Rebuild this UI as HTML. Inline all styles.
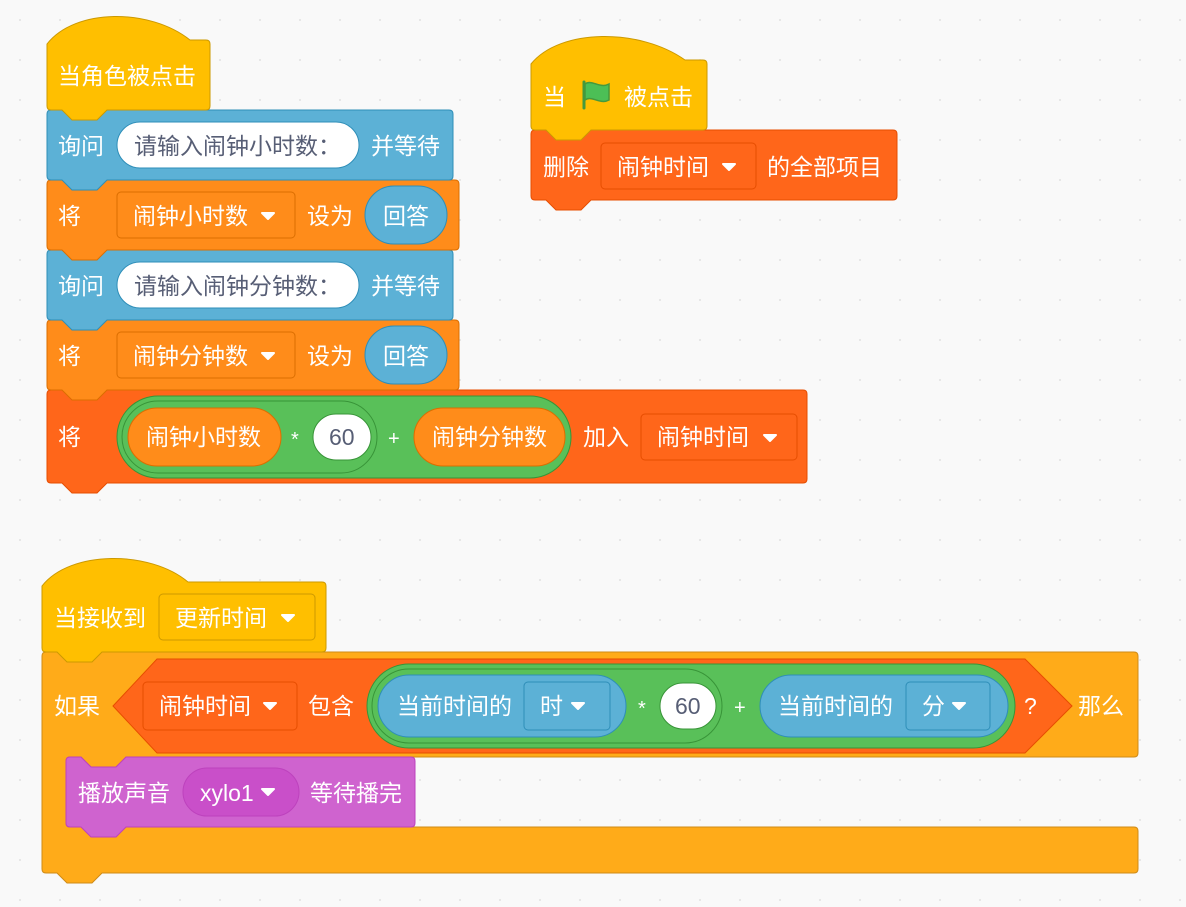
<!DOCTYPE html>
<html><head><meta charset="utf-8"><style>
html,body{margin:0;padding:0;background:#f9f9f9;}
svg{display:block;}
text{font-family:"Liberation Sans","Noto Sans CJK SC",sans-serif;font-size:23px;fill:#fff;}
.g{fill:#575e75;}
</style></head><body>
<svg width="1186" height="907" viewBox="0 0 1186 907" xmlns="http://www.w3.org/2000/svg">
<defs>
<pattern id="dots" x="0" y="0" width="40" height="40" patternUnits="userSpaceOnUse"><circle cx="20" cy="20" r="1" fill="#e2e2e2"/></pattern>
</defs>
<rect width="1186" height="907" fill="#f9f9f9"/>
<rect width="1186" height="907" fill="url(#dots)"/>

<!-- Script 1 -->
<path d="M47,394 Q47,390 51,390 L803,390 Q807,390 807,394 L807,479 Q807,483 803,483 L107,483 L97,493 L72,493 L62,483 L51,483 Q47,483 47,479 Z" fill="#ff661a" stroke="#e64d00"/>
<path d="M47,324 Q47,320 51,320 L455,320 Q459,320 459,324 L459,386 Q459,390 455,390 L107,390 L97,400 L72,400 L62,390 L51,390 Q47,390 47,386 Z" fill="#ff8c1a" stroke="#db6e00"/>
<path d="M47,254 Q47,250 51,250 L449,250 Q453,250 453,254 L453,316 Q453,320 449,320 L107,320 L97,330 L72,330 L62,320 L51,320 Q47,320 47,316 Z" fill="#5cb1d6" stroke="#2e8eb8"/>
<path d="M47,184 Q47,180 51,180 L455,180 Q459,180 459,184 L459,246 Q459,250 455,250 L107,250 L97,260 L72,260 L62,250 L51,250 Q47,250 47,246 Z" fill="#ff8c1a" stroke="#db6e00"/>
<path d="M47,114 Q47,110 51,110 L449,110 Q453,110 453,114 L453,176 Q453,180 449,180 L107,180 L97,190 L72,190 L62,180 L51,180 Q47,180 47,176 Z" fill="#5cb1d6" stroke="#2e8eb8"/>
<path d="M47,44 C 75,8 150,8 190,40 L206,40 Q210,40 210,44 L210,106 Q210,110 206,110 L107,110 L97,120 L72,120 L62,110 L51,110 Q47,110 47,106 Z" fill="#ffbf00" stroke="#cc9900"/>
<text x="58" y="84">当角色被点击</text>

<text x="58" y="154">询问</text>
<rect x="117" y="122" width="242" height="46" rx="23" fill="#fff" stroke="#2e8eb8"/>
<text x="134" y="154" class="g">请输入闹钟小时数：</text>
<text x="371" y="154">并等待</text>

<text x="58" y="224">将</text>
<rect x="117" y="192" width="178" height="46" rx="4" fill="#ff8c1a" stroke="#db6e00"/>
<text x="133" y="224">闹钟小时数</text>
<path d="M262,213 L274,213 L268,219 Z" fill="#fff" stroke="#fff" stroke-linejoin="round" stroke-width="2"/>
<text x="307" y="224">设为</text>
<rect x="365" y="186" width="82" height="58" rx="29" fill="#5cb1d6" stroke="#2e8eb8"/>
<text x="383" y="224">回答</text>

<text x="58" y="294">询问</text>
<rect x="117" y="262" width="242" height="46" rx="23" fill="#fff" stroke="#2e8eb8"/>
<text x="134" y="294" class="g">请输入闹钟分钟数：</text>
<text x="371" y="294">并等待</text>

<text x="58" y="364">将</text>
<rect x="117" y="332" width="178" height="46" rx="4" fill="#ff8c1a" stroke="#db6e00"/>
<text x="133" y="364">闹钟分钟数</text>
<path d="M262,353 L274,353 L268,359 Z" fill="#fff" stroke="#fff" stroke-linejoin="round" stroke-width="2"/>
<text x="307" y="364">设为</text>
<rect x="365" y="326" width="82" height="58" rx="29" fill="#5cb1d6" stroke="#2e8eb8"/>
<text x="383" y="364">回答</text>

<text x="58" y="445">将</text>
<rect x="117" y="396" width="454" height="82" rx="41" fill="#59c059" stroke="#389438"/>
<rect x="122" y="401" width="255" height="72" rx="36" fill="#59c059" stroke="#389438"/>
<rect x="128" y="408" width="153" height="58" rx="29" fill="#ff8c1a" stroke="#db6e00"/>
<text x="146" y="445">闹钟小时数</text>
<text x="291" y="446" style="font-size:20px">*</text>
<rect x="313" y="414" width="58" height="46" rx="23" fill="#fff" stroke="#389438"/>
<text x="329" y="445" class="g">60</text>
<text x="388" y="445" style="font-size:20px">+</text>
<rect x="414" y="408" width="151" height="58" rx="29" fill="#ff8c1a" stroke="#db6e00"/>
<text x="432" y="445">闹钟分钟数</text>
<text x="583" y="445">加入</text>
<rect x="641" y="414" width="156" height="46" rx="4" fill="#ff661a" stroke="#e64d00"/>
<text x="657" y="445">闹钟时间</text>
<path d="M764,435 L776,435 L770,441 Z" fill="#fff" stroke="#fff" stroke-linejoin="round" stroke-width="2"/>

<!-- Script 2 -->
<path d="M531,134 Q531,130 535,130 L893,130 Q897,130 897,134 L897,196 Q897,200 893,200 L591,200 L581,210 L556,210 L546,200 L535,200 Q531,200 531,196 Z" fill="#ff661a" stroke="#e64d00"/>
<path d="M531,64 C 560,28 640,28 685,60 L703,60 Q707,60 707,64 L707,126 Q707,130 703,130 L591,130 L581,140 L556,140 L546,130 L535,130 Q531,130 531,126 Z" fill="#ffbf00" stroke="#cc9900"/>
<text x="543" y="105">当</text>
<path d="M584,82 L584,108" stroke="#45993d" stroke-width="3" stroke-linecap="round"/>
<path d="M585,84 C 592,79 600,89 609,84 L609,100 C 600,105 592,95 585,100 Z" fill="#4cbf56" stroke="#45993d" stroke-width="1.5"/>
<text x="624" y="105">被点击</text>
<text x="543" y="175">删除</text>
<rect x="601" y="143" width="155" height="46" rx="4" fill="#ff661a" stroke="#e64d00"/>
<text x="617" y="175">闹钟时间</text>
<path d="M723,164 L735,164 L729,170 Z" fill="#fff" stroke="#fff" stroke-linejoin="round" stroke-width="2"/>
<text x="767" y="175">的全部项目</text>

<!-- Script 3 -->
<path d="M42,656 Q42,652 46,652 L1134,652 Q1138,652 1138,656 L1138,753 Q1138,757 1134,757 L126,757 L116,767 L91,767 L81,757 L70,757 Q66,757 66,761 L66,823 Q66,827 70,827 L1134,827 Q1138,827 1138,831 L1138,869 Q1138,873 1134,873 L102,873 L92,883 L67,883 L57,873 L46,873 Q42,873 42,869 Z" fill="#ffab19" stroke="#cf8b17"/>
<path d="M66,761 Q66,757 70,757 L81,757 L91,767 L116,767 L126,757 L411,757 Q415,757 415,761 L415,823 Q415,827 411,827 L126,827 L116,837 L91,837 L81,827 L70,827 Q66,827 66,823 Z" fill="#cf63cf" stroke="#bd42bd"/>
<path d="M42,586 C 70,550 150,550 188,582 L322,582 Q326,582 326,586 L326,648 Q326,652 322,652 L102,652 L92,662 L67,662 L57,652 L46,652 Q42,652 42,648 Z" fill="#ffbf00" stroke="#cc9900"/>
<text x="54" y="626">当接收到</text>
<rect x="159" y="594" width="156" height="46" rx="4" fill="#ffbf00" stroke="#cc9900"/>
<text x="175" y="626">更新时间</text>
<path d="M282,615 L294,615 L288,621 Z" fill="#fff" stroke="#fff" stroke-linejoin="round" stroke-width="2"/>

<text x="54" y="714">如果</text>
<path d="M113,706 L157,659 L1025,659 L1072,706 L1025,753 L157,753 Z" fill="#ff661a" stroke="#e64d00"/>
<rect x="143" y="682" width="154" height="48" rx="4" fill="#ff661a" stroke="#e64d00"/>
<text x="159" y="714">闹钟时间</text>
<path d="M264,703 L276,703 L270,709 Z" fill="#fff" stroke="#fff" stroke-linejoin="round" stroke-width="2"/>
<text x="308" y="714">包含</text>
<rect x="367" y="664" width="648" height="84" rx="42" fill="#59c059" stroke="#389438"/>
<rect x="372" y="669" width="350" height="74" rx="37" fill="#59c059" stroke="#389438"/>
<rect x="378" y="675" width="248" height="62" rx="31" fill="#5cb1d6" stroke="#2e8eb8"/>
<text x="397" y="714">当前时间的</text>
<rect x="524" y="682" width="86" height="48" rx="4" fill="#5cb1d6" stroke="#2e8eb8"/>
<text x="540" y="714">时</text>
<path d="M572,703 L584,703 L578,709 Z" fill="#fff" stroke="#fff" stroke-linejoin="round" stroke-width="2"/>
<text x="638" y="715" style="font-size:20px">*</text>
<rect x="660" y="683" width="56" height="46" rx="23" fill="#fff" stroke="#389438"/>
<text x="675" y="714" class="g">60</text>
<text x="734" y="714" style="font-size:20px">+</text>
<rect x="760" y="675" width="248" height="62" rx="31" fill="#5cb1d6" stroke="#2e8eb8"/>
<text x="778" y="714">当前时间的</text>
<rect x="906" y="682" width="84" height="48" rx="4" fill="#5cb1d6" stroke="#2e8eb8"/>
<text x="922" y="714">分</text>
<path d="M953,703 L965,703 L959,709 Z" fill="#fff" stroke="#fff" stroke-linejoin="round" stroke-width="2"/>
<text x="1024" y="714">?</text>
<text x="1078" y="714">那么</text>

<text x="78" y="801">播放声音</text>
<rect x="183" y="768" width="116" height="48" rx="24" fill="#c94fc9" stroke="#bd42bd"/>
<text x="200" y="801">xylo1</text>
<path d="M262,789 L274,789 L268,795 Z" fill="#fff" stroke="#fff" stroke-linejoin="round" stroke-width="2"/>
<text x="310" y="801">等待播完</text>
</svg>
</body></html>
